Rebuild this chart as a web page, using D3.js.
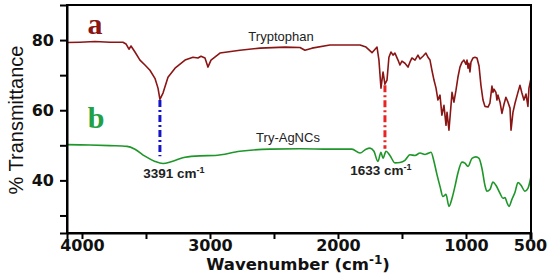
<!DOCTYPE html>
<html>
<head>
<meta charset="utf-8">
<script src="https://cdn.jsdelivr.net/npm/d3@7"></script>
<style>
  body { margin: 0; background: #fff; }
  .axis path, .axis line { stroke: #000; stroke-width: 2; }
  .axis text { font-family: "DejaVu Sans", sans-serif; font-weight: bold; font-size: 16px; fill: #111; }
</style>
</head>
<body>
<script>
// wavenumber (cm-1) and % transmittance
var tryWave = [4117, 4016, 3898, 3781, 3680, 3656, 3633, 3617, 3586, 3547, 3508, 3469, 3430, 3406, 3391,
  3367, 3328, 3273, 3195, 3133, 3094, 3070, 3039, 3016, 2992, 2922, 2766, 2609, 2414, 2297, 2258, 2203,
  2063, 1828, 1781, 1734, 1695, 1680, 1664, 1648, 1633, 1617, 1602, 1586, 1570, 1555, 1531, 1516, 1500,
  1477, 1453, 1438, 1422, 1398, 1375, 1359, 1336, 1313, 1297, 1281, 1266, 1250, 1234, 1219, 1203, 1188,
  1172, 1156, 1148, 1133, 1117, 1109, 1094, 1078, 1063, 1047, 1031, 1016, 1000, 992, 984, 977, 969, 961,
  945, 930, 914, 898, 883, 867, 852, 828, 813, 797, 789, 781, 766, 758, 750, 734, 719, 703, 688, 672,
  656, 648, 633, 617, 594, 578, 563, 547, 531, 516, 508, 492];
var tryTrans = [79.3, 79.4, 79.6, 79.4, 79.4, 78.9, 77.4, 78.3, 76.6, 74.3, 72.9, 71.4, 69.1, 66.3, 63.1,
  64.9, 69.4, 72.0, 74.3, 75.1, 74.9, 75.4, 74.9, 72.3, 74.3, 76.3, 77.1, 77.7, 78.0, 77.9, 77.1, 77.7,
  78.6, 78.6, 78.0, 76.4, 78.0, 74.3, 66.3, 70.9, 67.4, 68.6, 75.1, 76.6, 75.7, 76.3, 74.3, 72.9, 74.0,
  73.4, 72.3, 73.7, 74.9, 74.3, 75.7, 74.6, 75.4, 76.3, 75.1, 74.3, 71.4, 68.6, 66.3, 62.9, 64.3, 58.6,
  61.4, 55.7, 59.4, 54.3, 61.4, 65.1, 62.3, 65.7, 69.4, 72.3, 73.7, 74.3, 73.1, 74.3, 72.0, 73.4, 70.9, 73.7,
  74.9, 75.1, 74.9, 72.6, 67.1, 62.9, 61.1, 60.9, 62.0, 66.9, 65.1, 66.0, 65.1, 62.9, 64.3, 62.3, 59.1, 61.7,
  63.7, 62.3, 60.6, 54.3, 59.4, 62.0, 65.1, 67.1, 64.9, 62.9, 64.6, 61.1, 66.3, 69.1];

var agWave = [4117, 3938, 3781, 3648, 3586, 3508, 3430, 3367, 3297, 3195, 3078, 2961, 2766, 2531, 2297,
  2063, 1891, 1828, 1781, 1750, 1719, 1688, 1664, 1648, 1625, 1594, 1555, 1516, 1477, 1438, 1398, 1359,
  1320, 1297, 1273, 1250, 1227, 1203, 1180, 1156, 1133, 1109, 1086, 1063, 1031, 1008, 984, 953, 922, 898,
  875, 852, 836, 813, 789, 766, 734, 711, 695, 680, 664, 641, 617, 594, 570, 539, 516, 492];
var agTrans = [50.2, 50.1, 49.9, 49.7, 48.9, 46.9, 45.4, 44.8, 45.4, 46.6, 47.0, 47.1, 48.3, 48.9, 49.0,
  48.9, 48.9, 47.8, 48.9, 49.2, 48.3, 45.4, 48.0, 46.3, 48.3, 47.1, 45.0, 45.1, 45.7, 47.3, 47.1, 47.8,
  47.4, 47.7, 48.0, 45.4, 41.7, 38.3, 35.4, 36.0, 32.6, 34.9, 38.3, 42.1, 45.2, 44.9, 44.0, 46.3, 46.7, 46.3,
  43.4, 38.6, 36.9, 37.4, 39.5, 38.6, 36.3, 34.9, 35.1, 33.7, 32.6, 34.6, 36.6, 39.4, 38.6, 36.9, 37.7, 41.1];

// marked peaks: wavenumber, top and bottom of the dash-dot line
var peakWave = [3391, 1633];
var peakTop = [62.9, 67.1];
var peakBottom = [46.9, 49.0];
var peakColors = ["#1515c8", "#e82525"];

var xTicks = [4000, 3500, 3000, 2500, 2000, 1500, 1000, 500];
var xLabels = [4000, 3000, 2000, 1000, 500];
var yTicks = [30, 40, 50, 60, 70, 80];
var yLabels = [40, 60, 80];

var W = 550, H = 276;
var margin = { top: 5, right: 19, bottom: 43, left: 67 },
    width = W - margin.left - margin.right,
    height = H - margin.top - margin.bottom;

var svg = d3.select("body").append("svg")
    .attr("width", W)
    .attr("height", H);

var g = svg.append("g")
    .attr("transform", "translate(" + margin.left + "," + margin.top + ")");

var x = d3.scaleLinear().domain([4117, 492]).range([0, width]);
var y = d3.scaleLinear().domain([25, 90]).range([height, 0]);

var line = d3.line()
    .x(function (d) { return x(d[0]); })
    .y(function (d) { return y(d[1]); });

var tryData = d3.zip(tryWave, tryTrans);
var agData = d3.zip(agWave, agTrans);

g.append("path")
    .datum(tryData)
    .attr("d", line)
    .style("fill", "none")
    .attr("stroke", "#8a1515")
    .attr("stroke-width", 1.6)
    .attr("stroke-linejoin", "round");

g.append("path")
    .datum(agData)
    .attr("d", line.curve(d3.curveMonotoneX))
    .style("fill", "none")
    .attr("stroke", "#1f962a")
    .attr("stroke-width", 1.6);

// dash-dot marker lines
g.selectAll(".peak")
    .data(peakWave)
    .enter().append("line")
    .attr("class", "peak")
    .attr("x1", function (d) { return x(d); })
    .attr("x2", function (d) { return x(d); })
    .attr("y1", function (d, i) { return y(peakTop[i]); })
    .attr("y2", function (d, i) { return y(peakBottom[i]); })
    .attr("stroke", function (d, i) { return peakColors[i]; })
    .attr("stroke-width", 3)
    .attr("stroke-dasharray", "7,3,2,3");

// axes
g.append("g")
    .attr("class", "x axis")
    .attr("transform", "translate(0," + height + ")")
    .call(d3.axisBottom(x).tickValues(xTicks).tickSize(6).tickPadding(1)
        .tickFormat(function (d) { return xLabels.indexOf(d) >= 0 ? d : ""; }));

g.append("g")
    .attr("class", "y axis")
    .call(d3.axisLeft(y).tickValues(yTicks).tickSize(7).tickPadding(6)
        .tickFormat(function (d) { return yLabels.indexOf(d) >= 0 ? d : ""; }));

g.append("rect")
    .attr("width", width)
    .attr("height", height)
    .style("fill", "none")
    .attr("stroke", "#000")
    .attr("stroke-width", 2);

// labels
var lab = svg.append("g").style("font-family", "Liberation Sans, Arial, sans-serif");

lab.append("text").attr("x", 95).attr("y", 34).attr("text-anchor", "middle")
    .style("font-family", "Liberation Serif, serif").style("font-weight", "bold")
    .style("font-size", "30px").style("fill", "#8a1515").text("a");
lab.append("text").attr("x", 96).attr("y", 128).attr("text-anchor", "middle")
    .style("font-family", "Liberation Serif, serif").style("font-weight", "bold")
    .style("font-size", "30px").style("fill", "#22a045").text("b");

lab.append("text").attr("x", 281).attr("y", 41).attr("text-anchor", "middle")
    .style("font-size", "13px").style("fill", "#222").text("Tryptophan");
lab.append("text").attr("x", 288).attr("y", 142).attr("text-anchor", "middle")
    .style("font-size", "13px").style("fill", "#222").text("Try-AgNCs");

function cmLabel(cx, cy, num) {
    var t = lab.append("text").attr("x", cx).attr("y", cy).attr("text-anchor", "middle")
        .style("font-weight", "bold").style("font-size", "13.5px").style("fill", "#222");
    t.append("tspan").text(num + " cm");
    t.append("tspan").attr("dy", -5).style("font-size", "9px").text("-1");
}
cmLabel(x(3391) + margin.left + 14, 178, 3391);
cmLabel(x(1633) + margin.left - 4, 175, 1633);

lab.append("text")
    .attr("transform", "translate(23,120) rotate(-90)")
    .attr("text-anchor", "middle")
    .style("font-size", "20px").style("fill", "#111")
    .text("% Transmittance");

var xl = svg.append("text")
    .attr("x", 298).attr("y", 270).attr("text-anchor", "middle")
    .style("font-family", "DejaVu Sans, sans-serif").style("font-weight", "bold")
    .style("font-size", "16.5px").style("fill", "#111");
xl.append("tspan").text("Wavenumber (cm");
xl.append("tspan").attr("dy", -6).style("font-size", "12px").text("-1");
xl.append("tspan").attr("dy", 6).text(")");
</script>
</body>
</html>
